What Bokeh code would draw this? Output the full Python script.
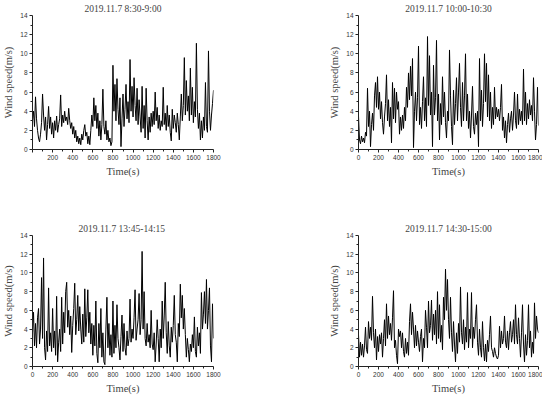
from bokeh.plotting import figure
from bokeh.layouts import column, row
from bokeh.models import FixedTicker, Range1d
from bokeh.embed import file_html
from bokeh.resources import INLINE

# ---------------- data (10 s steps) ----------------
time_s = list(range(0, 1801, 10))

titles = ["2019.11.7 8:30-9:00", "2019.11.7 10:00-10:30",
          "2019.11.7  13:45-14:15", "2019.11.7 14:30-15:00"]

speed_0830 = [3.0, 4.0, 2.4, 5.5, 3.2, 2.0, 1.2, 0.8, 1.6, 2.8,
              5.8, 3.6, 2.0, 3.4, 1.0, 2.6, 4.5, 2.2, 3.4, 1.6,
              2.8, 1.2, 3.0, 2.0, 3.5, 1.8, 2.6, 3.2, 5.7, 2.4,
              3.6, 2.8, 4.0, 3.0, 3.4, 2.6, 4.3, 3.0, 2.2, 2.8,
              1.6, 2.4, 1.2, 2.0, 0.8, 1.4, 0.6, 1.2, 0.5, 1.6,
              1.0, 2.0, 2.6, 1.4, 1.8, 0.6, 1.4, 0.5, 2.0, 3.6,
              2.4, 5.4, 3.0, 4.6, 2.2, 3.8, 1.4, 3.0, 1.0, 2.6,
              6.3, 2.4, 1.6, 3.0, 1.0, 2.0, 0.8, 1.2, 0.4, 0.8,
              8.8, 4.0, 6.8, 3.0, 7.4, 4.2, 2.6, 5.4, 0.3, 3.2,
              5.8, 2.4, 4.2, 6.8, 3.2, 5.0, 2.8, 9.4, 4.0, 6.6,
              3.4, 7.5, 4.6, 3.0, 6.4, 2.6, 5.2, 3.4, 1.8, 6.6,
              2.2, 4.6, 1.2, 6.4, 3.0, 1.0, 3.4, 1.8, 3.8, 2.4,
              4.0, 2.6, 6.0, 3.0, 4.4, 2.2, 3.6, 2.0, 3.0, 2.4,
              6.5, 2.6, 3.8, 2.0, 4.6, 2.4, 3.6, 1.8, 0.9, 4.2,
              2.2, 3.6, 2.8, 1.8, 3.8, 2.6, 1.0, 3.4, 5.8, 3.0,
              4.6, 9.6, 3.6, 7.2, 4.0, 5.6, 3.0, 8.5, 3.6, 6.5,
              2.8, 5.0, 3.4, 11.1, 4.2, 2.2, 3.8, 1.0, 3.0, 1.2,
              3.4, 2.0, 7.0, 2.4, 1.8, 10.3, 4.0, 2.0, 3.6, 4.8,
              6.2]

speed_1000 = [3.5, 1.0, 0.6, 1.4, 0.8, 1.2, 0.7, 1.8, 1.4, 6.4,
              2.4, 4.0, 0.3, 2.6, 3.8, 2.0, 5.6, 7.0, 4.4, 7.6,
              4.2, 6.0, 3.2, 5.0, 2.8, 1.6, 3.4, 4.8, 7.8, 3.0,
              5.2, 2.4, 4.4, 0.7, 7.0, 3.2, 6.4, 2.8, 6.0, 4.2,
              5.0, 1.6, 3.4, 2.0, 3.6, 2.2, 4.4, 3.0, 6.5, 4.4,
              8.0, 5.2, 8.7, 5.6, 9.5, 0.2, 4.0, 6.0, 3.0, 5.4,
              10.8, 2.6, 4.4, 2.2, 5.0, 7.6, 3.0, 5.4, 2.4, 11.8,
              4.6, 9.8, 3.6, 6.0, 0.3, 8.8, 3.6, 5.4, 11.4, 3.0,
              5.8, 1.0, 4.8, 2.6, 7.6, 3.4, 6.0, 2.8, 1.2, 4.0,
              3.0, 10.4, 5.6, 2.4, 0.5, 6.2, 2.6, 4.8, 7.5, 3.0,
              6.0, 9.0, 4.4, 2.4, 7.0, 3.0, 5.6, 10.0, 3.0, 5.8,
              2.2, 4.0, 1.2, 3.6, 6.6, 2.4, 1.6, 3.8, 2.6, 4.0,
              0.3, 9.5, 3.0, 6.2, 2.4, 4.8, 10.0, 5.0, 9.0, 3.4,
              7.8, 3.0, 6.0, 2.2, 4.4, 2.6, 6.5, 3.2, 4.4, 3.4,
              4.2, 3.0, 4.4, 6.8, 2.0, 3.4, 1.2, 3.0, 0.7, 2.6,
              3.8, 1.8, 3.2, 4.0, 2.0, 3.6, 6.0, 3.0, 2.2, 5.8,
              2.6, 4.2, 3.0, 4.0, 2.6, 8.4, 3.0, 6.0, 2.6, 4.8,
              3.2, 5.2, 3.6, 4.6, 3.0, 7.5, 4.0, 1.0, 2.6, 6.5,
              2.5]

speed_1345 = [3.6, 5.8, 2.2, 4.6, 2.0, 5.2, 6.2, 2.4, 4.0, 9.5,
              3.0, 11.6, 2.0, 0.7, 3.8, 1.6, 8.4, 2.2, 3.6, 1.6,
              6.2, 2.0, 3.8, 1.2, 7.5, 0.5, 2.6, 4.0, 1.6, 7.4,
              2.4, 5.8, 3.6, 8.0, 9.0, 4.2, 6.0, 3.4, 5.4, 1.5,
              4.4, 6.2, 8.9, 3.4, 5.0, 7.6, 3.8, 6.4, 4.0, 2.4,
              5.6, 2.6, 8.3, 3.2, 5.2, 8.2, 3.6, 5.8, 2.4, 4.6,
              1.2, 4.4, 2.2, 7.0, 1.4, 0.4, 4.6, 2.0, 6.2, 1.0,
              3.6, 0.5, 0.2, 4.0, 7.4, 2.0, 4.6, 1.2, 3.4, 1.0,
              7.0, 1.4, 4.4, 2.0, 6.6, 3.0, 2.0, 0.7, 3.2, 5.5,
              1.6, 4.6, 2.0, 1.2, 3.8, 2.2, 3.0, 7.2, 2.6, 4.0,
              3.0, 5.2, 8.2, 2.8, 4.0, 5.0, 7.8, 3.4, 5.0, 12.3,
              4.0, 8.0, 3.0, 2.2, 4.6, 2.6, 3.4, 2.0, 6.0, 2.4,
              1.8, 3.6, 0.5, 2.4, 5.0, 3.0, 0.5, 4.0, 2.0, 7.0,
              3.0, 5.4, 9.0, 3.6, 1.4, 4.8, 2.2, 1.0, 4.2, 2.6,
              4.4, 7.6, 3.4, 2.6, 0.5, 4.6, 3.2, 8.8, 5.2, 7.6,
              4.0, 6.2, 3.4, 1.0, 3.0, 1.8, 0.5, 2.4, 1.6, 3.4,
              2.0, 5.3, 1.6, 1.0, 4.2, 2.2, 3.6, 1.4, 7.9, 4.0,
              5.6, 8.0, 4.6, 9.3, 4.0, 6.0, 8.4, 2.2, 0.5, 6.7,
              3.0]

speed_1430 = [3.4, 1.0, 2.6, 1.2, 2.4, 1.0, 2.2, 4.2, 1.8, 1.4,
              4.8, 3.0, 4.2, 2.8, 7.5, 3.6, 2.0, 4.0, 0.7, 3.2,
              1.6, 3.4, 2.4, 3.6, 1.0, 3.0, 5.0, 2.2, 6.7, 3.0,
              5.4, 3.4, 4.6, 2.8, 5.2, 8.1, 2.0, 2.8, 1.2, 0.3,
              4.0, 3.2, 3.8, 2.0, 3.6, 1.6, 1.0, 3.0, 1.4, 2.6,
              1.2, 4.8, 6.7, 3.4, 5.8, 4.0, 2.0, 4.4, 2.2, 3.8,
              2.6, 1.6, 3.2, 4.0, 0.5, 3.0, 2.0, 6.0, 4.2, 2.0,
              7.0, 3.6, 4.4, 7.1, 2.8, 5.6, 3.4, 6.0, 2.4, 8.0,
              3.0, 6.6, 2.6, 4.4, 1.8, 7.4, 5.0, 10.4, 6.0, 9.3,
              5.0, 3.0, 7.4, 3.6, 1.6, 4.8, 2.4, 0.5, 3.6, 1.4,
              4.6, 2.6, 8.5, 3.6, 2.4, 5.0, 1.8, 4.2, 2.6, 7.9,
              2.0, 4.0, 3.0, 7.9, 2.0, 4.2, 3.0, 5.0, 6.6, 2.6,
              1.2, 4.0, 2.0, 1.0, 4.8, 2.0, 0.6, 2.4, 0.5, 2.8,
              1.6, 3.4, 5.4, 2.0, 1.6, 1.0, 2.0, 1.4, 1.0, 0.8,
              1.2, 4.3, 2.0, 3.8, 2.4, 3.0, 5.4, 2.6, 2.0, 3.8,
              1.8, 3.6, 4.8, 2.6, 3.4, 5.0, 2.4, 6.6, 3.4, 2.4,
              5.2, 3.0, 1.0, 3.6, 6.6, 2.4, 0.5, 3.4, 1.2, 2.8,
              6.6, 2.0, 3.8, 1.0, 2.6, 1.4, 6.8, 3.0, 5.4, 4.0,
              3.6]

series = [speed_0830, speed_1000, speed_1345, speed_1430]

x_ticks = [0, 200, 400, 600, 800, 1000, 1200, 1400, 1600, 1800]
x_minor = [100, 300, 500, 700, 900, 1100, 1300, 1500, 1700]
y_ticks = [0, 2, 4, 6, 8, 10, 12, 14]
y_minor = [1, 3, 5, 7, 9, 11, 13]

SERIF = "Liberation Serif"
SANS = "Liberation Sans"


def panel(title, speeds, left, right, top, bottom, fw, fh, hide_zero=False):
    p = figure(frame_width=fw, frame_height=fh, output_backend="svg",
               toolbar_location=None, title=title,
               x_range=Range1d(0, 1800), y_range=Range1d(0, 14),
               min_border_left=left, min_border_right=right,
               min_border_top=top, min_border_bottom=bottom)
    p.line(time_s, speeds, line_color="black", line_width=1.0)
    p.grid.visible = False
    p.outline_line_color = None
    p.background_fill_color = "white"
    p.border_fill_color = "white"

    p.title.text_font = SERIF
    p.title.text_font_size = "9.5px"
    p.title.text_font_style = "normal"
    p.title.align = "center"
    p.title.standoff = 3

    p.xaxis.ticker = FixedTicker(ticks=x_ticks, minor_ticks=x_minor)
    p.yaxis.ticker = FixedTicker(ticks=y_ticks, minor_ticks=y_minor)
    if hide_zero:
        p.xaxis.major_label_overrides = {0: ""}
    p.xaxis.axis_label = "Time(s)"
    p.yaxis.axis_label = "Wind speed(m/s)"
    for ax in (p.xaxis, p.yaxis):
        ax.axis_label_text_font = SERIF
        ax.axis_label_text_font_size = "10.5px"
        ax.axis_label_text_font_style = "normal"
        ax.axis_label_standoff = 3
        ax.major_label_text_font = SANS
        ax.major_label_text_font_size = "6.5px"
        ax.major_label_text_color = "#333333"
        ax.major_label_standoff = 2
        ax.major_tick_in = 0
        ax.major_tick_out = 3
        ax.minor_tick_in = 0
        ax.minor_tick_out = 2
        ax.axis_line_color = "#222222"
        ax.major_tick_line_color = "#222222"
        ax.minor_tick_line_color = "#222222"
    return p


p1 = panel(titles[0], series[0], 26, 113, 14, 53, 181, 134, hide_zero=True)
p2 = panel(titles[1], series[1], 30, 4, 14, 53, 180, 134)
p3 = panel(titles[2], series[2], 26, 113, 33, 26, 181, 131)
p4 = panel(titles[3], series[3], 30, 4, 33, 26, 180, 131)

layout = column(row(p1, p2), row(p3, p4))

open("out.html", "w").write(file_html(layout, INLINE))
